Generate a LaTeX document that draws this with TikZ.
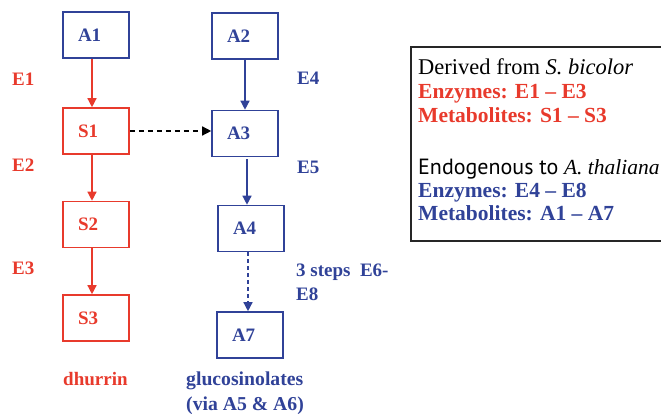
\documentclass[tikz,border=0pt]{standalone}
\usepackage{fontspec}
\setmainfont{Liberation Serif}
\newfontfamily\legsans{PT Sans}
\usetikzlibrary{arrows.meta}
\definecolor{sred}{RGB}{232,58,44}
\definecolor{ablue}{RGB}{48,66,152}

\begin{document}
\begin{tikzpicture}[x=1pt,y=-1pt,every node/.style={font=\fontsize{19}{23}\selectfont\bfseries},
    box/.style={draw,line width=1.6pt,minimum height=46pt,text width=36pt,inner xsep=15pt,align=left},
    arr/.style={line width=1.4pt,-{Triangle[length=9pt,width=9pt]}},
    lab/.style={anchor=base west,inner sep=0pt},
    legbold/.style={lab,font=\fontsize{21.5}{25}\selectfont\bfseries},
    legplain/.style={lab,font=\fontsize{22.5}{26}\selectfont}]
    \useasboundingbox (0,0) rectangle (661,414);
    % sorghum side
    \node[box,ablue] (s0) at (96,35) {A1};
    \node[box,sred] (s1) at (96,131) {S1};
    \node[box,sred] (s2) at (96,224.5) {S2};
    \node[box,sred] (s3) at (96,318) {S3};
    % arabidopsis side
    \node[box,ablue] (a2) at (245,36) {A2};
    \node[box,ablue] (a3) at (245,133.5) {A3};
    \node[box,ablue] (a4) at (251,228.5) {A4};
    \node[box,ablue] (a7) at (250,335) {A7};
    \draw[arr,sred] ([xshift=-4pt]s0.south) -- ([xshift=-4pt]s1.north);
    \draw[arr,sred] ([xshift=-4pt]s1.south) -- ([xshift=-4pt]s2.north);
    \draw[arr,sred] ([xshift=-4pt]s2.south) -- ([xshift=-4pt]s3.north);
    \draw[arr,ablue] (a2.south) -- (a3.north);
    \draw[arr,ablue] ([xshift=2pt,yshift=-2pt]a3.south) -- ([xshift=-4pt]a4.north);
    \draw[arr,ablue,dash pattern=on 4pt off 3pt] ([xshift=-3pt]a4.south) -- ([xshift=-2pt]a7.north);
    \draw[arr,black,dash pattern=on 5pt off 4pt] (s1.east) -- (s1.east -| a3.west);
    % enzyme labels
    \foreach \ee/\yy in {E1/86,E2/172,E3/274} {
        \node[lab,sred] (l\ee) at (12,\yy) {\ee};
    }
    \foreach \ee/\yy in {E4/85,E5/174} {
        \node[lab,ablue] (l\ee) at (297,\yy) {\ee};
    }
    \node[lab,ablue] (lE6) at (296,276) {3 steps\ \ E6-};
    \node[lab,ablue] (lE8) at (296,300) {E8};
    \node[lab,sred] (dhur) at (63,385) {dhurrin};
    \node[lab,ablue,font=\fontsize{19.7}{23}\selectfont\bfseries] (gluc) at (186,385) {glucosinolates};
    \node[lab,ablue,font=\fontsize{19.7}{23}\selectfont\bfseries] (via) at (186,410) {(via A5 \& A6)};
    % legend
    \draw[line width=1.5pt,black!85] (411,47) rectangle (666,241);
    \node[legplain] (leg1) at (418,75) {Derived from \textit{S. bicolor}};
    \node[legbold,sred] (leg2) at (418,99) {Enzymes: E1 -- E3};
    \node[legbold,sred] (leg3) at (418,123) {Metabolites: S1 -- S3};
    \node[legplain] (leg4) at (418,175) {{\legsans\fontsize{22}{26}\selectfont Endogenous to} \fontsize{21.5}{26}\selectfont\textit{A.\ thaliana}};
    \node[legbold,ablue] (leg5) at (418,198) {Enzymes: E4 -- E8};
    \node[legbold,ablue] (leg6) at (418,221) {Metabolites: A1 -- A7};
\end{tikzpicture}
\end{document}
